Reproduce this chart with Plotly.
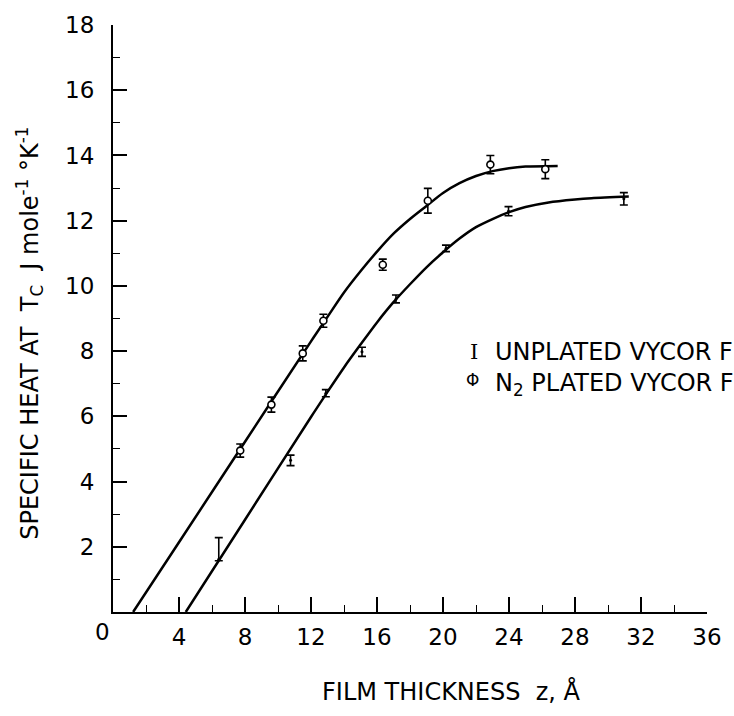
import plotly.graph_objects as go

# ---- data ----
unplated_x = [6.41, 10.76, 12.9, 15.09, 17.15, 20.18, 23.97, 30.96]
unplated_y = [1.62, 4.65, 6.71, 7.98, 9.6, 11.15, 12.29, 12.67]
unplated_err_plus = [0.66, 0.16, 0.11, 0.14, 0.12, 0.10, 0.14, 0.19]
unplated_err_minus = [0.05, 0.16, 0.11, 0.14, 0.12, 0.10, 0.14, 0.19]

plated_x = [7.71, 9.6, 11.5, 12.75, 16.35, 19.08, 22.87, 26.2]
plated_y = [4.95, 6.36, 7.93, 8.93, 10.65, 12.61, 13.72, 13.58]
plated_err = [0.2, 0.23, 0.23, 0.2, 0.17, 0.38, 0.28, 0.29]

# smooth curves drawn through the data
plated_curve_x = [1.22, 4, 8, 12, 13, 14, 15, 16, 17, 18, 19, 20, 21, 22, 23, 24, 25, 26.95]
plated_curve_y = [0, 2.14, 5.22, 8.3, 9.05, 9.8, 10.45, 11.05, 11.6, 12.05, 12.45, 12.85,
                  13.15, 13.37, 13.52, 13.61, 13.66, 13.68]
unplated_curve_x = [4.41, 8, 12, 13, 14, 15, 16, 17, 18, 19, 20, 21, 22, 23, 24, 25, 26.4,
                    28, 29, 31.26]
unplated_curve_y = [0, 2.83, 5.98, 6.75, 7.5, 8.2, 8.88, 9.5, 10.05, 10.57, 11.03, 11.45,
                    11.8, 12.05, 12.26, 12.42, 12.56, 12.65, 12.69, 12.74]

x_tickvals = [4, 8, 12, 16, 20, 24, 28, 32, 36]
x_ticktext = ["4", "8", "12", "16", "20", "24", "28", "32", "36"]
x_minor = [2, 6, 10, 14, 18, 22, 26, 30, 34]
y_tickvals = [2, 4, 6, 8, 10, 12, 14, 16, 18]
y_ticktext = ["2", "4", "6", "8", "10", "12", "14", "16", "18"]
y_minor = [1, 3, 5, 7, 9, 11, 13, 15, 17]

FONT = "DejaVu Sans"
W, H = 734, 716
L, R, T, B = 113, 20, 17, 104

fig = go.Figure()
fig.add_trace(go.Scatter(x=plated_curve_x, y=plated_curve_y, mode="lines",
                         line=dict(color="black", width=2.5, shape="spline", smoothing=0.8),
                         hoverinfo="skip"))
fig.add_trace(go.Scatter(x=unplated_curve_x, y=unplated_curve_y, mode="lines",
                         line=dict(color="black", width=2.5, shape="spline", smoothing=0.8),
                         hoverinfo="skip"))
fig.add_trace(go.Scatter(x=unplated_x, y=unplated_y, mode="markers",
                         marker=dict(size=3, color="black"),
                         error_y=dict(type="data", symmetric=False, array=unplated_err_plus,
                                      arrayminus=unplated_err_minus, color="black",
                                      thickness=1.6, width=4)))
fig.add_trace(go.Scatter(x=plated_x, y=plated_y, mode="markers",
                         marker=dict(size=7, color="white", line=dict(color="black", width=1.6)),
                         error_y=dict(type="data", array=plated_err, color="black",
                                      thickness=1.6, width=4)))

pw = W - L - R
ph = H - T - B
def px_x(p):
    return (p - L) / pw
def px_y(p):
    return (H - B - p) / ph

annots = [
    dict(text="0", x=px_x(102), y=px_y(632), xref="paper", yref="paper",
         xanchor="center", yanchor="middle", font=dict(size=23)),
    dict(text="FILM THICKNESS  z, Å", x=px_x(455), y=px_y(693), xref="paper", yref="paper",
         xanchor="center", yanchor="middle", font=dict(size=24)),
    dict(text="SPECIFIC HEAT AT  T<sub>C</sub>  J mole<sup>-1</sup> °K<sup>-1</sup>",
         x=px_x(29), y=px_y(329), xref="paper", yref="paper", textangle=-90,
         xanchor="center", yanchor="middle", font=dict(size=24)),
    dict(text="I", x=px_x(478), y=px_y(348), xref="paper", yref="paper",
         xanchor="center", yanchor="middle", font=dict(size=21, family="DejaVu Serif")),
    dict(text="UNPLATED VYCOR F", x=px_x(497), y=px_y(348), xref="paper", yref="paper",
         xanchor="left", yanchor="middle", font=dict(size=24)),
    dict(text="Φ", x=px_x(477), y=px_y(377), xref="paper", yref="paper",
         xanchor="center", yanchor="middle", font=dict(size=17)),
    dict(text="N<sub>2</sub> PLATED VYCOR F", x=px_x(497), y=px_y(381), xref="paper", yref="paper",
         xanchor="left", yanchor="middle", font=dict(size=24)),
]
for a in annots:
    a["showarrow"] = False
    a["font"]["color"] = "black"
    a["font"].setdefault("family", FONT)

fig.update_layout(
    width=W, height=H,
    margin=dict(l=L, r=R, t=T, b=B, pad=0),
    paper_bgcolor="white", plot_bgcolor="white",
    showlegend=False,
    font=dict(family=FONT, color="black", size=23),
    annotations=annots,
    xaxis=dict(range=[0, 36], showgrid=False, zeroline=False, showline=True,
               linecolor="black", linewidth=2, ticks="inside", ticklen=15, tickwidth=1.6,
               tickcolor="black", tickvals=x_tickvals, ticktext=x_ticktext,
               tickfont=dict(size=23, family=FONT), ticklabelstandoff=3,
               minor=dict(tickvals=x_minor, ticks="inside",
                          ticklen=7, tickwidth=1.4, tickcolor="black")),
    yaxis=dict(range=[0, 18], showgrid=False, zeroline=False, showline=True,
               linecolor="black", linewidth=2, ticks="inside", ticklen=14, tickwidth=1.6,
               tickcolor="black", tickvals=y_tickvals, ticktext=y_ticktext,
               tickfont=dict(size=23, family=FONT), ticklabelstandoff=12,
               minor=dict(tickvals=y_minor, ticks="inside",
                          ticklen=7, tickwidth=1.4, tickcolor="black")),
)

fig.write_html("out.html", config=dict(displayModeBar=False),
               post_script="document.body.style.margin='0';document.body.style.overflow='hidden';")
